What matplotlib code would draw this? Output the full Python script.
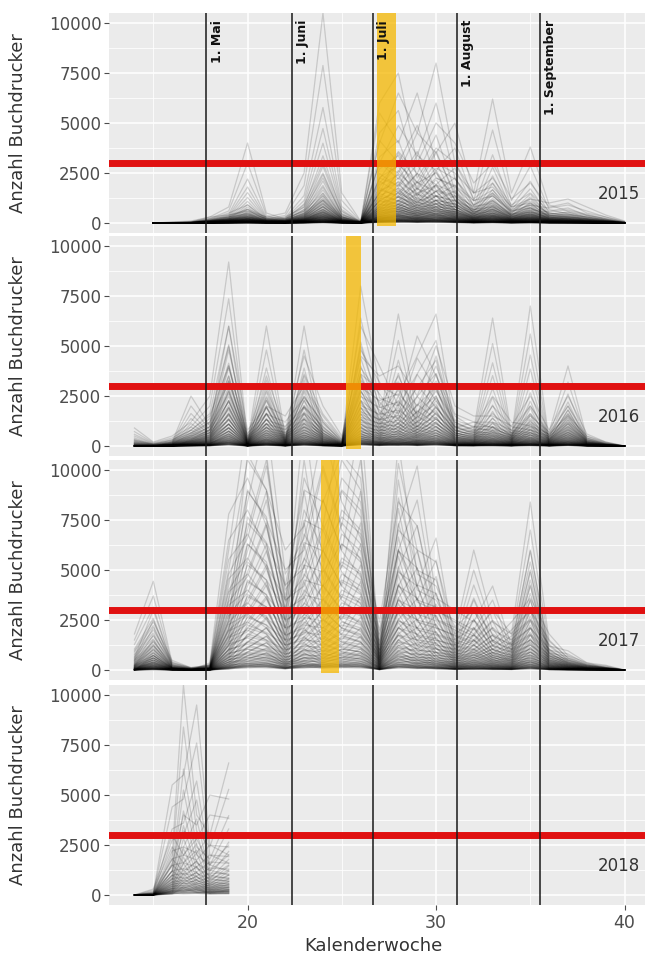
import numpy as np
import matplotlib
matplotlib.use("Agg")
import matplotlib.pyplot as plt

# Kalenderwochen der Fallenleerungen je Jahr
weeks_2015 = [15, 16, 17, 18, 19, 20, 21, 22, 23, 24, 25, 26, 27, 28, 29, 30, 31, 32, 33, 34, 35, 36, 37, 38, 39, 40]
weeks_1617 = [14, 15, 16, 17, 18, 19, 20, 21, 22, 23, 24, 25, 26, 27, 28, 29, 30, 31, 32, 33, 34, 35, 36, 37, 38, 39, 40]
weeks_2018 = [14, 15, 16, 16.6, 17.3, 18, 19]

# typische Fangverlaeufe (Kaefer je Leerung) einer starken Falle
prof_2015 = [
    [0, 0, 50, 300, 800, 4000, 500, 200, 900, 3000, 600, 50, 1500, 3500, 2000, 2500, 1200, 600, 1500, 500, 1300, 400, 300, 200, 100, 0],
    [0, 0, 0, 100, 300, 700, 300, 500, 2500, 10500, 1500, 100, 2000, 3000, 1800, 3500, 1500, 500, 900, 400, 800, 300, 200, 100, 50, 0],
    [0, 0, 30, 200, 500, 900, 200, 300, 800, 2500, 400, 100, 4000, 6500, 4500, 8000, 3000, 1200, 2000, 800, 1000, 500, 400, 300, 150, 0],
    [0, 50, 100, 300, 400, 600, 300, 200, 600, 1500, 300, 50, 5500, 4000, 6500, 3000, 2500, 1500, 6200, 1500, 3800, 900, 600, 400, 200, 0],
    [0, 0, 0, 100, 200, 400, 150, 100, 400, 1000, 200, 0, 6000, 7500, 3000, 5000, 4000, 2000, 3000, 1200, 2000, 800, 1000, 500, 300, 50],
    [0, 0, 20, 150, 300, 600, 200, 150, 500, 1200, 300, 50, 3000, 2500, 4500, 3500, 5000, 1500, 1800, 800, 1200, 1000, 1200, 800, 400, 100],
]
prof_2016 = [
    [900, 200, 500, 1200, 2500, 9200, 300, 3000, 400, 3500, 1200, 200, 5000, 2000, 3500, 1500, 4500, 1000, 700, 1200, 500, 2000, 500, 2000, 300, 100, 0],
    [0, 0, 100, 600, 1200, 5000, 200, 6000, 500, 2500, 800, 150, 3500, 1200, 6600, 1500, 3000, 1200, 800, 6400, 600, 1500, 700, 4000, 400, 100, 0],
    [0, 0, 0, 300, 800, 3500, 100, 2500, 300, 6000, 600, 100, 8000, 3000, 2500, 4500, 6600, 900, 1200, 900, 500, 7000, 300, 1800, 200, 50, 0],
    [300, 100, 300, 800, 1500, 4000, 500, 3500, 800, 4500, 2000, 500, 4500, 3500, 4000, 2500, 5000, 2000, 1500, 1500, 1000, 2500, 800, 2500, 600, 200, 0],
    [0, 0, 200, 2500, 1000, 6000, 800, 2000, 1500, 3000, 1500, 300, 6000, 4000, 2000, 5500, 3500, 1500, 900, 2500, 1200, 1000, 600, 1500, 500, 200, 0],
]
prof_2017 = [
    [1500, 3700, 300, 100, 200, 5000, 10500, 9000, 3000, 8000, 6000, 10500, 9000, 1000, 8600, 5000, 4500, 1500, 5000, 2000, 1500, 7000, 1200, 500, 200, 100, 0],
    [500, 2500, 200, 50, 100, 3000, 7000, 10500, 4000, 5500, 8500, 6000, 10500, 800, 6000, 8500, 3000, 2500, 2000, 3500, 1000, 4500, 800, 400, 200, 100, 0],
    [200, 1200, 100, 0, 300, 6500, 8000, 6000, 2500, 10500, 4500, 8000, 7000, 1500, 5000, 3500, 5500, 1000, 3000, 1200, 2000, 3000, 1500, 600, 300, 100, 0],
    [800, 2000, 400, 100, 200, 2000, 9000, 7500, 5000, 6000, 10000, 7000, 5500, 2000, 7000, 6000, 2500, 2000, 1500, 2500, 1500, 2500, 1000, 800, 300, 200, 0],
    [0, 600, 100, 0, 50, 4000, 5500, 8500, 3500, 7500, 7000, 9000, 8000, 500, 9500, 4000, 3500, 1800, 2500, 1500, 1000, 5000, 700, 300, 100, 0, 0],
]
prof_2018 = [
    [0, 0, 2000, 10500, 4000, 3000, 6600],
    [0, 100, 5500, 6000, 9500, 2500, 2000],
    [0, 0, 1500, 4000, 3500, 5000, 4800],
    [0, 300, 3000, 2000, 2800, 1500, 2500],
]

# relative Fallenstaerke (Anteil am typischen Verlauf)
level_2015 = [1.0, 0.75, 0.55, 0.45, 0.38, 0.32, 0.27, 0.23, 0.2, 0.17, 0.14, 0.12, 0.1, 0.08, 0.06, 0.05, 0.04, 0.03, 0.02, 0.015]
level_2016 = [1.0, 0.8, 0.65, 0.55, 0.45, 0.38, 0.32, 0.27, 0.22, 0.18, 0.15, 0.12, 0.1, 0.08, 0.06, 0.05, 0.04, 0.03, 0.02, 0.015]
level_2017 = [1.2, 1.0, 0.85, 0.7, 0.6, 0.5, 0.42, 0.35, 0.3, 0.25, 0.2, 0.16, 0.13, 0.1, 0.08, 0.06, 0.04, 0.03, 0.02]
level_2018 = [1.0, 0.8, 0.6, 0.5, 0.4, 0.33, 0.27, 0.22, 0.18, 0.15, 0.12, 0.1, 0.08, 0.06, 0.04, 0.03]

years = ["2015", "2016", "2017", "2018"]
schwelle = 3000
monate = ["1. Mai", "1. Juni", "1. Juli", "1. August", "1. September"]
monat_kw = [17.82, 22.34, 26.65, 31.1, 35.5]
# Schwaermzeitraum (orange Balken) je Jahr, 2018 keiner
band_2015 = (26.85, 27.9)
band_2016 = (25.2, 26.0)
band_2017 = (23.9, 24.85)

panels = [
    (weeks_2015, prof_2015, level_2015, band_2015),
    (weeks_1617, prof_2016, level_2016, band_2016),
    (weeks_1617, prof_2017, level_2017, band_2017),
    (weeks_2018, prof_2018, level_2018, None),
]

W, H = 645, 956
fig = plt.figure(figsize=(W / 100, H / 100), dpi=100)
xlim = (12.65, 41.5)
ax_left = 109 / W
ax_w = (xlim[1] - xlim[0]) * 18.85 / W
ax_h = 220 / H
bottoms_px = [233, 456, 680, 905]

for i, (wk, profs, levels, band) in enumerate(panels):
    ax = fig.add_axes([ax_left, 1 - bottoms_px[i] / H, ax_w, ax_h])
    ax.set_facecolor("#EBEBEB")
    ax.set_xlim(*xlim)
    ax.set_ylim(-500, 10500)
    for s in ax.spines.values():
        s.set_visible(False)
    ax.set_xticks([20, 30, 40])
    ax.set_xticks([15, 25, 35], minor=True)
    ax.set_yticks([0, 2500, 5000, 7500, 10000])
    ax.set_yticks([1250, 3750, 6250, 8750], minor=True)
    ax.grid(which="major", color="white", lw=1.1)
    ax.grid(which="minor", color="white", lw=0.55)
    ax.set_axisbelow(True)
    ax.tick_params(which="minor", length=0)
    ax.tick_params(axis="y", colors="#4d4d4d", labelsize=12, length=3.5, width=0.8, pad=2)
    if i == 3:
        ax.tick_params(axis="x", colors="#4d4d4d", labelsize=12.5, length=3.5, width=0.8, pad=3)
    else:
        ax.tick_params(axis="x", length=0, labelbottom=False)

    for p in profs:
        for lv in levels:
            ax.plot(wk, np.array(p) * lv, color="black", alpha=0.15, lw=0.9, zorder=2)

    ax.axhline(schwelle, color="#e01010", lw=5, zorder=3)
    for kw in monat_kw:
        ax.axvline(kw, color="#1a1a1a", lw=1.1, zorder=3)
    if band is not None:
        ax.fill_between(band, -150, 10500, color="#f5b800", alpha=0.75, lw=0, zorder=4)

    ax.text(38.6, 1450, years[i], fontsize=12, color="#333333", ha="left", va="center", zorder=5)
    ax.set_ylabel("Anzahl Buchdrucker", fontsize=13, color="#333333")
    ax.yaxis.set_label_coords(-0.151, 0.5)

    if i == 0:
        for name, kw in zip(monate, monat_kw):
            ax.text(kw + 0.22, 10150, name, rotation=90, rotation_mode="anchor",
                    ha="right", va="top", fontsize=9, fontweight="bold",
                    color="#111111", zorder=6)

fig.text(373 / W, 1 - 946 / H, "Kalenderwoche", fontsize=13, color="#333333",
         ha="center", va="center")

fig.savefig("out.png", dpi=100)
